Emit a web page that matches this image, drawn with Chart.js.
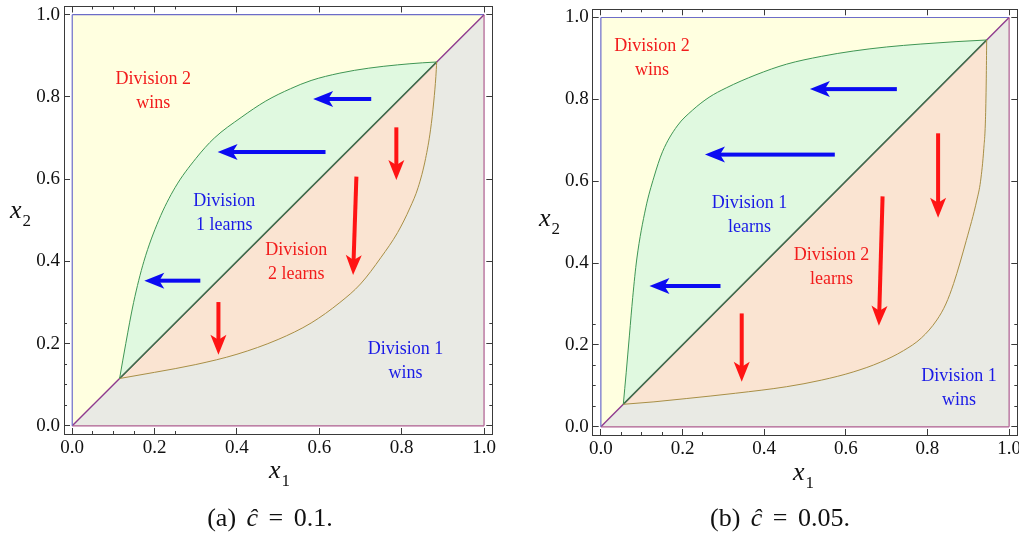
<!DOCTYPE html>
<html>
<head>
<meta charset="utf-8">
<script src="https://cdn.jsdelivr.net/npm/chart.js@4.4.1/dist/chart.umd.min.js"></script>
<style>
  body { margin: 0; background: #fff; width: 1019px; height: 533px; overflow: hidden; position: relative; font-family: "Liberation Serif", serif; color: #111; }
  canvas { position: absolute; top: 0; }
  #chartA { left: 0; }
  #chartB { left: 520px; }
  .ttl { position: absolute; white-space: nowrap; font-size: 26px; line-height: 1; }
  .ttl i { font-style: italic; }
  .ttl .sb { font-size: 17px; position: relative; top: 8px; margin-left: 1px; }
  .cap { position: absolute; white-space: nowrap; font-size: 26px; line-height: 1; transform: translate(-50%, -50%); word-spacing: 4px; }
</style>
</head>
<body>
<canvas id="chartA" width="520" height="470"></canvas>
<canvas id="chartB" width="499" height="470"></canvas>

<div class="ttl" style="left:269px; top:457px"><i>x</i><span class="sb">1</span></div>
<div class="ttl" style="left:10px; top:197px"><i>x</i><span class="sb">2</span></div>
<div class="ttl" style="left:793px; top:459px"><i>x</i><span class="sb">1</span></div>
<div class="ttl" style="left:539px; top:205px"><i>x</i><span class="sb">2</span></div>

<div class="cap" style="left:270px; top:518px">(a) <i>ĉ</i> = 0.1.</div>
<div class="cap" style="left:780px; top:518px">(b) <i>ĉ</i> = 0.05.</div>

<script>
// axis ticks
const majorTicks = [0, 0.2, 0.4, 0.6, 0.8, 1.0];
const tickLabels = ['0.0', '0.2', '0.4', '0.6', '0.8', '1.0'];
const minorTicks = [0, 0.05, 0.1, 0.15, 0.2, 0.25, 0.3, 0.35, 0.4, 0.45, 0.5,
                    0.55, 0.6, 0.65, 0.7, 0.75, 0.8, 0.85, 0.9, 0.95, 1.0];

// panel (a), c = 0.1 : boundary curves [x1, x2]
const upperA = [[0.115, 0.115], [0.13, 0.20], [0.149, 0.30], [0.174, 0.40], [0.21, 0.50],
                [0.25, 0.58], [0.30, 0.65], [0.345, 0.70], [0.41, 0.75], [0.47, 0.79],
                [0.53, 0.82], [0.58, 0.84], [0.65, 0.858], [0.72, 0.87], [0.79, 0.878],
                [0.85, 0.883], [0.885, 0.885]];
const lowerA = [[0.115, 0.115], [0.20, 0.13], [0.30, 0.149], [0.40, 0.174], [0.50, 0.21],
                [0.58, 0.25], [0.65, 0.30], [0.70, 0.345], [0.75, 0.41], [0.79, 0.47],
                [0.82, 0.53], [0.84, 0.58], [0.858, 0.65], [0.87, 0.72], [0.878, 0.79],
                [0.883, 0.85], [0.885, 0.885]];
// arrows [from x1, from x2, to x1, to x2]
const leftArrowsA = [[0.726, 0.795, 0.585, 0.795], [0.615, 0.666, 0.353, 0.666], [0.311, 0.353, 0.175, 0.353]];
const downArrowsA = [[0.787, 0.726, 0.787, 0.598], [0.69, 0.606, 0.682, 0.367], [0.355, 0.301, 0.355, 0.173]];
const labelsA = [['Division 2', 'wins'], ['Division', '1 learns'], ['Division', '2 learns'], ['Division 1', 'wins']];
const labelSpotsA = [[0.197, 0.815], [0.369, 0.517], [0.544, 0.398], [0.809, 0.156]];

// panel (b), c = 0.05
const upperB = [[0.055, 0.055], [0.062, 0.132], [0.07, 0.224], [0.078, 0.316], [0.088, 0.41],
                [0.11, 0.535], [0.13, 0.61], [0.151, 0.672], [0.187, 0.735], [0.225, 0.774],
                [0.265, 0.805], [0.307, 0.828], [0.38, 0.86], [0.455, 0.886], [0.54, 0.905],
                [0.618, 0.918], [0.70, 0.928], [0.782, 0.935], [0.87, 0.941], [0.945, 0.945]];
const lowerB = [[0.055, 0.055], [0.13, 0.061], [0.209, 0.069], [0.33, 0.082], [0.455, 0.098],
                [0.54, 0.114], [0.618, 0.134], [0.685, 0.158], [0.741, 0.186], [0.785, 0.217],
                [0.823, 0.261], [0.845, 0.30], [0.864, 0.35], [0.895, 0.455], [0.921, 0.554],
                [0.93, 0.60], [0.938, 0.68], [0.942, 0.75], [0.944, 0.85], [0.945, 0.945]];
const leftArrowsB = [[0.725, 0.825, 0.512, 0.825], [0.573, 0.665, 0.255, 0.665], [0.293, 0.344, 0.119, 0.344]];
const downArrowsB = [[0.826, 0.717, 0.826, 0.511], [0.69, 0.563, 0.681, 0.247], [0.345, 0.277, 0.345, 0.11]];
const labelsB = [['Division 2', 'wins'], ['Division 1', 'learns'], ['Division 2', 'learns'], ['Division 1', 'wins']];
const labelSpotsB = [[0.125, 0.90], [0.364, 0.518], [0.565, 0.389], [0.877, 0.093]];

const frameColor = '#3a3a3a';
const blueText = '#1a1ae6', redText = '#f21c1c';

const pts = arr => arr.map(p => ({x: p[0], y: p[1]}));

// size = room kept for labels (0 for the tick-only axes)
function makeScale(position, values, len, labels, border, size, weight) {
  return {
    type: 'linear', position: position, min: -0.02, max: 1.02, bounds: 'data', weight: weight,
    afterBuildTicks: s => { s.ticks = values.map(v => ({value: v})); },
    afterFit: s => {
      if (s.isHorizontal()) s.height = size; else s.width = size;
      s.paddingLeft = s.paddingRight = s.paddingTop = s.paddingBottom = 0;
    },
    grid: { display: true, drawOnChartArea: false, drawTicks: true, tickLength: -len, color: frameColor, tickWidth: 1 },
    border: { display: border, color: frameColor, width: 1 },
    ticks: {
      display: labels,
      padding: position === 'bottom' ? 9 : 10,
      color: '#111',
      font: { family: '"Liberation Serif", serif', size: 19 },
      callback: (v, i) => tickLabels[i]
    }
  };
}

function drawArrow(ctx, x0, y0, x1, y1, color) {
  const ang = Math.atan2(y1 - y0, x1 - x0);
  const len = Math.hypot(x1 - x0, y1 - y0);
  const L = 20, W = 8, N = 5;
  ctx.save();
  ctx.translate(x1, y1);
  ctx.rotate(ang);
  ctx.fillStyle = color;
  ctx.fillRect(-len, -2, len - L + N + 1, 4);
  ctx.beginPath();
  ctx.moveTo(0, 0);
  ctx.lineTo(-L, -W);
  ctx.lineTo(-L + N, 0);
  ctx.lineTo(-L, W);
  ctx.closePath();
  ctx.fill();
  ctx.restore();
}

const overlay = {
  id: 'overlay',
  afterDatasetsDraw(chart, args, opts) {
    const ctx = chart.ctx, xs = chart.scales.x, ys = chart.scales.y;
    opts.leftArrows.forEach(a => drawArrow(ctx, xs.getPixelForValue(a[0]), ys.getPixelForValue(a[1]),
      xs.getPixelForValue(a[2]), ys.getPixelForValue(a[3]), '#0b0bf2'));
    opts.downArrows.forEach(a => drawArrow(ctx, xs.getPixelForValue(a[0]), ys.getPixelForValue(a[1]),
      xs.getPixelForValue(a[2]), ys.getPixelForValue(a[3]), '#ff1414'));
    ctx.save();
    ctx.font = '18px "Liberation Serif", serif';
    ctx.textAlign = 'center';
    ctx.textBaseline = 'middle';
    opts.labels.forEach((lines, i) => {
      const px = xs.getPixelForValue(opts.spots[i][0]);
      const py = ys.getPixelForValue(opts.spots[i][1]);
      ctx.fillStyle = i % 2 === 0 ? redText : blueText;
      ctx.fillText(lines[0], px, py - 12);
      ctx.fillText(lines[1], px, py + 12);
    });
    ctx.restore();
  }
};

function makeChart(id, upper, lower, leftArrows, downArrows, labels, spots, axisW, axisH, padding) {
  const c0 = upper[0], c1 = upper[upper.length - 1];
  const line = (data, color, width, order, extra) => Object.assign({
    data: pts(data), borderColor: color, borderWidth: width, pointRadius: 0,
    fill: false, order: order, xAxisID: 'x', yAxisID: 'y'
  }, extra || {});
  new Chart(document.getElementById(id), {
    type: 'line',
    data: {
      datasets: [
        line([[0, 1], [1, 1]], '#6c6cc8', 1.2, 7, { fill: {value: 0}, backgroundColor: '#ffffe0' }),
        line([[0, 0], [1, 1]], '#8e3a8e', 1.4, 6, { fill: {value: 0}, backgroundColor: '#e9eae4' }),
        line([c0, c1], '#3b7646', 1.4, 5, { fill: 4, backgroundColor: '#fae4d2' }),
        line(upper, '#3f9654', 1, 4, { fill: 2, backgroundColor: '#e0f9e0', cubicInterpolationMode: 'monotone' }),
        line(lower, '#a88f46', 1, 3, { cubicInterpolationMode: 'monotone' }),
        line([[0, 0], [0, 1]], '#6c6cc8', 1.2, 1),
        line([[1, 0], [1, 1]], '#ad5c8f', 1.2, 1),
        line([[0, 0], [1, 0]], '#ad5c8f', 1.2, 1)
      ]
    },
    options: {
      responsive: false,
      animation: false,
      events: [],
      layout: { padding: padding },
      scales: {
        x: makeScale('bottom', majorTicks, 6, true, true, axisH, 0),
        y: makeScale('left', majorTicks, 6, true, true, axisW, 0),
        xm: makeScale('bottom', minorTicks, 3, false, false, 0, -1),
        ym: makeScale('left', minorTicks, 3, false, false, 0, -1),
        xt: makeScale('top', majorTicks, 6, false, true, 0, 0),
        xtm: makeScale('top', minorTicks, 3, false, false, 0, 0),
        yr: makeScale('right', majorTicks, 6, false, true, 0, 0),
        yrm: makeScale('right', minorTicks, 3, false, false, 0, 0)
      },
      plugins: {
        legend: { display: false },
        tooltip: { enabled: false },
        filler: { drawTime: 'beforeDatasetsDraw' },
        overlay: { leftArrows: leftArrows, downArrows: downArrows, labels: labels, spots: spots }
      }
    },
    plugins: [overlay]
  });
}

makeChart('chartA', upperA, lowerA, leftArrowsA, downArrowsA, labelsA, labelSpotsA,
  64, 36, { left: 0, top: 6.5, right: 27.7, bottom: 0 });
makeChart('chartB', upperB, lowerB, leftArrowsB, downArrowsB, labelsB, labelSpotsB,
  72.7, 35, { left: 0, top: 9.3, right: 1.7, bottom: 0 });
</script>
</body>
</html>
